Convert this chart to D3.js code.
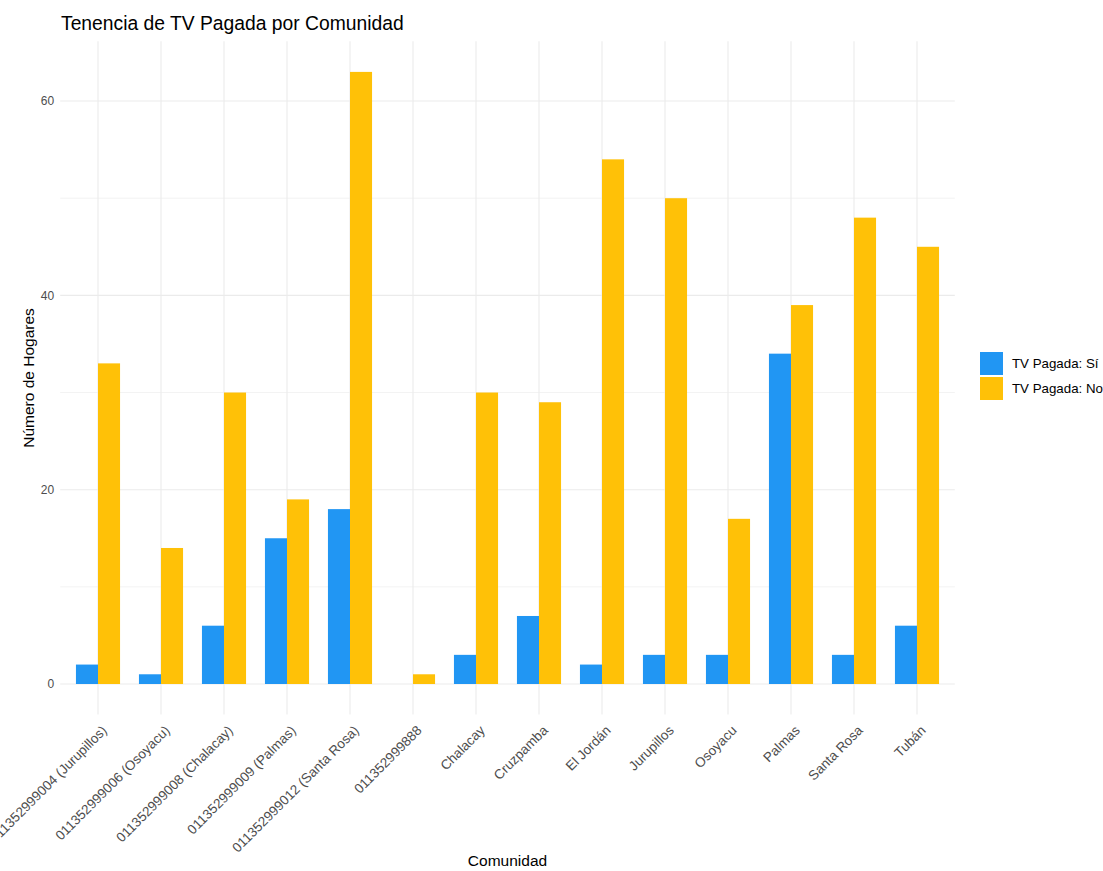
<!DOCTYPE html>
<html><head><meta charset="utf-8">
<script src="https://cdn.jsdelivr.net/npm/d3@7"></script>
<style>body{margin:0;background:#fff}svg{display:block}</style>
</head><body>
<script>
const categories = ["011352999004 (Jurupillos)","011352999006 (Osoyacu)","011352999008 (Chalacay)","011352999009 (Palmas)","011352999012 (Santa Rosa)","011352999888","Chalacay","Cruzpamba","El Jordán","Jurupillos","Osoyacu","Palmas","Santa Rosa","Tubán"];
const seriesNames = ["TV Pagada: Sí","TV Pagada: No"];
const valuesSi = [2,1,6,15,18,0,3,7,2,3,3,34,3,6];
const valuesNo = [33,14,30,19,63,1,30,29,54,50,17,39,48,45];
const yTicks = [0,20,40,60];
const yMinor = [10,30,50];
const colors = ["#2196F3","#FFC107"];

const W=1103,H=871;
const svg=d3.select("body").append("svg").attr("width",W).attr("height",H);
const font="Liberation Sans, Arial, sans-serif";
const L=60.2,R=954.8,T=41.3,B=714.6;
const n=categories.length;
const x=d3.scaleLinear().domain([0.4,n+0.6]).range([L,R]);
const y=d3.scaleLinear().domain([-3.15,66.15]).range([B,T]);

const g=svg.append("g");
// grid
yMinor.forEach(v=>g.append("line").attr("x1",L).attr("x2",R).attr("y1",y(v)).attr("y2",y(v)).attr("stroke","#ebebeb").attr("stroke-width",0.6));
yTicks.forEach(v=>g.append("line").attr("x1",L).attr("x2",R).attr("y1",y(v)).attr("y2",y(v)).attr("stroke","#ebebeb").attr("stroke-width",1.1));
categories.forEach((c,i)=>g.append("line").attr("x1",x(i+1)).attr("x2",x(i+1)).attr("y1",T).attr("y2",B).attr("stroke","#ebebeb").attr("stroke-width",1.1));

// bars
const bw=0.35;
const data=[valuesSi,valuesNo];
data.forEach((vals,s)=>{
  g.selectAll(null).data(vals).enter().append("rect")
   .attr("x",(d,i)=>x(i+1-0.35+s*bw))
   .attr("width",x(1+bw)-x(1))
   .attr("y",d=>y(d))
   .attr("height",d=>y(0)-y(d))
   .attr("fill",colors[s]);
});

// y tick labels
yTicks.forEach(v=>svg.append("text").attr("x",L-6).attr("y",y(v)).attr("dy","0.35em").attr("text-anchor","end")
  .attr("font-family",font).attr("font-size",12).attr("fill","#4d4d4d").text(v));

// x tick labels
categories.forEach((c,i)=>{
  svg.append("text").attr("transform",`translate(${x(i+1)+3},${B+10}) rotate(-45)`)
   .attr("text-anchor","end").attr("dy","0.7em")
   .attr("font-family",font).attr("font-size",13.5).attr("fill","#4d4d4d").text(c);
});

// titles
svg.append("text").attr("x",61).attr("y",30).attr("font-family",font).attr("font-size",19.3).attr("fill","#000").text("Tenencia de TV Pagada por Comunidad");
svg.append("text").attr("x",(L+R)/2).attr("y",866).attr("text-anchor","middle").attr("font-family",font).attr("font-size",15.5).attr("fill","#000").text("Comunidad");
svg.append("text").attr("transform",`translate(34,${(T+B)/2}) rotate(-90)`).attr("text-anchor","middle").attr("font-family",font).attr("font-size",15.5).attr("fill","#000").text("Número de Hogares");

// legend
seriesNames.forEach((s,i)=>{
  const ly=352+i*25;
  svg.append("rect").attr("x",980).attr("y",ly).attr("width",23).attr("height",23).attr("fill",colors[i]);
  svg.append("text").attr("x",1012).attr("y",ly+11.5).attr("dy","0.35em").attr("font-family",font).attr("font-size",13.3).attr("fill","#000").text(s);
});
</script>
</body></html>
